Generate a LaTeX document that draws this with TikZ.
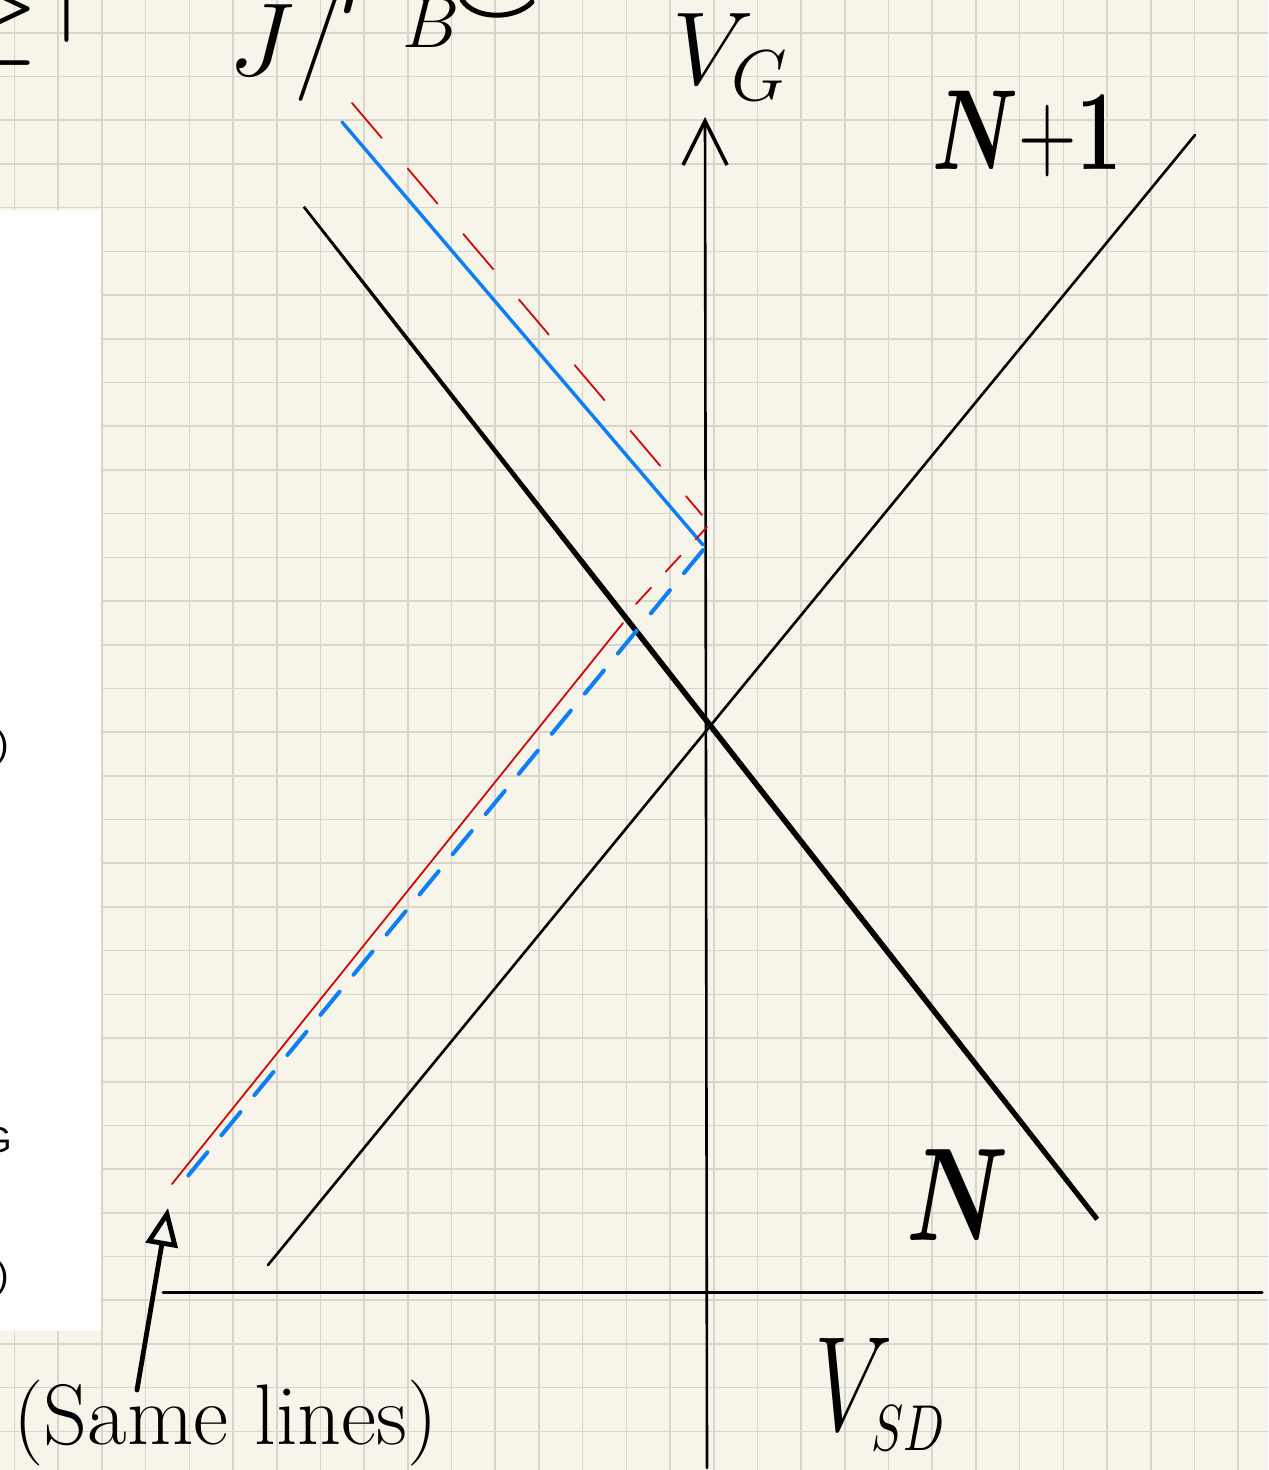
\documentclass[tikz,border=0pt]{standalone}
\usepackage{fontspec}
\setsansfont{Liberation Sans}
\usepackage{bm}
\usepackage{xcolor}
\usetikzlibrary{arrows.meta, math}
\definecolor{paper}{RGB}{247,245,234}
\definecolor{gridgray}{RGB}{216,214,202}
\definecolor{penred}{RGB}{208,8,12}
\definecolor{penblue}{RGB}{12,126,246}

\tikzset{
  pen/.style={line cap=round, line join=round},
  hand/.style={font=\fontsize{#1}{#1}\selectfont, inner sep=0pt, anchor=base west},
  hand/.default=20,
  frag/.style={font=\sffamily\fontsize{18}{20}\selectfont, inner sep=0pt, anchor=base east},
}

\begin{document}
\begin{tikzpicture}[x=0.5pt, y=-0.5pt]
\tikzmath{
\W=1268;
\H=1470;
\s=43.7;
}
\useasboundingbox (0,0) rectangle (\W,\H);
\clip (0,0) rectangle (\W,\H);

%paper
\fill[color=paper] (0,0) rectangle (\W,\H);
\foreach \i in {0,...,28}{
  \draw[color=gridgray, line width=0.8] (14.5+\i*\s,0) -- +(0,\H);
}
\foreach \i in {0,...,32}{
  \draw[color=gridgray, line width=0.8] (0,32.9+\i*\s) -- +(\W,0);
}
\fill[white] (0,210) rectangle (101,1331);
\node[frag] (cut1) at (9,756) {)};
\node[frag] (cut2) at (12,1152) {G};
\node[frag] (cut3) at (9,1287) {)};

%cut-off notes on top
\node[hand, anchor=base east] (geq) at (40,50) {\scalebox{2.8}{$\geq$}};
\node[hand, anchor=base] (bar) at (67,17) {\scalebox{2.5}{$|$}};
\node[hand] (jmu) at (228,76) {\scalebox{2.5}{$J/$\raisebox{16.8pt}{$\mu$}\raisebox{5.6pt}{$\scriptstyle B$}}};
\draw[pen, line width=2.5] (462,0) .. controls (475,20) and (515,20) .. (532,2);

%axes
\coordinate (xl) at (163,1292);
\coordinate (xr) at (1262,1292);
\coordinate (yb) at (707,1468);
\coordinate (yt) at (705,117);
\draw[pen, line width=1.5] (xl) -- (xr);
\draw[pen, line width=1.3, -{Straight Barb[length=22pt, width=22pt, line width=1.8pt]}] (yb) -- (yt);
\node[hand] (vg) at (672,85) {\scalebox{2.5}{$V_G$}};
\node[hand] (vsd) at (814,1430) {\scalebox{2.4}[3.25]{$V_{\scriptscriptstyle SD}$}};

%black lines
\draw[pen, line width=1.3] (268,1265) -- (1195,135);
\fill[pen, draw=black, line width=0.3] (304.8,206.4) -- (601.9,583.3) -- (902.0,966.1) -- (1098.7,1217.6)
  -- (1095.3,1220.4) -- (898.0,969.1) -- (598.1,586.3) -- (303.2,207.6) -- cycle;
\node[hand] (np1) at (932,170) {\scalebox{1.95}[2.75]{$\bm{N}{+}\bm{1}$}};
\node[hand] (nn) at (906,1240) {\scalebox{2.32}[3.19]{$\bm{N}$}};

%blue
\draw[pen, color=penblue, line width=1.7] (342,122) -- (703,545);
\draw[pen, color=penblue, line width=2, dash pattern=on 15pt off 11pt] (703,550) -- (178,1188);

%red
\draw[pen, color=penred, line width=0.9] (172,1184) -- (623,623);
\draw[pen, color=penred, line width=0.9, dash pattern=on 11pt off 11pt] (636,604) -- (707,527);
\draw[pen, color=penred, line width=0.9, dash pattern=on 23pt off 20pt] (352,103) -- (702,515);

%note
\node[hand=43] (same) at (13,1444) {(Same lines)};
\coordinate (tail) at (137,1390);
\coordinate (tip) at (168,1208);
\draw[pen, line width=2.4, -{Triangle[open, length=19pt, width=16pt]}] (tail) -- (tip);
\end{tikzpicture}
\end{document}
